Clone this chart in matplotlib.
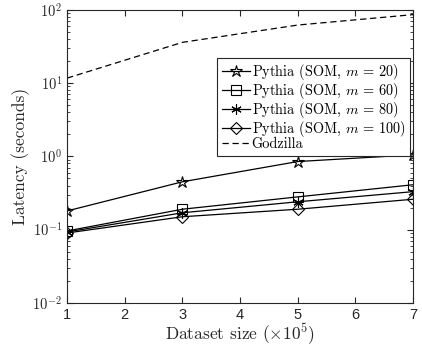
import numpy as np
import matplotlib
matplotlib.use('Agg')
import matplotlib.pyplot as plt

plt.rcParams['mathtext.fontset'] = 'cm'
plt.rcParams['font.family'] = ['Liberation Sans', 'DejaVu Sans']

# dataset size (x 10^5)
sizes = [1, 3, 5, 7]

# latency in seconds
som_m20 = [0.18, 0.45, 0.85, 1.05]
som_m60 = [0.096, 0.19, 0.28, 0.41]
som_m80 = [0.093, 0.17, 0.24, 0.33]
som_m100 = [0.09, 0.15, 0.19, 0.26]
godzilla = [11.7, 36, 62, 86]

labels = ['Pythia (SOM, $m$ = 20)',
          'Pythia (SOM, $m$ = 60)',
          'Pythia (SOM, $m$ = 80)',
          'Pythia (SOM, $m$ = 100)',
          'Godzilla']

fig = plt.figure(figsize=(4.22, 3.51), dpi=100)
ax = fig.add_axes([0.159, 0.137, 0.82, 0.835])

mk = dict(color='k', linewidth=0.9, markerfacecolor='none', markeredgecolor='k', markeredgewidth=0.8)
ax.plot(sizes, som_m20, marker='*', markersize=9, label=labels[0], **mk)
ax.plot(sizes, som_m60, marker='s', markersize=6.5, label=labels[1], **mk)
ax.plot(sizes, som_m80, marker=(6, 2, 0), markersize=7.5, label=labels[2], **mk)
ax.plot(sizes, som_m100, marker='D', markersize=6.5, label=labels[3], **mk)
ax.plot(sizes, godzilla, color='k', linewidth=0.9, linestyle=(0, (5, 3)), label=labels[4])

ax.set_yscale('log')
ax.set_xlim(1, 7)
ax.set_ylim(1e-2, 1e2)
ax.set_xticks(range(1, 8))
ax.set_yticks([1e-2, 1e-1, 1e0, 1e1, 1e2])
ax.set_yticklabels([r'$\mathsf{10^{%d}}$' % e for e in range(-2, 3)])
ax.tick_params(which='both', direction='in', top=True, right=True, labelsize=10.5, colors='#262626')
ax.tick_params(which='major', length=4)
ax.tick_params(which='minor', length=2)
ax.xaxis.set_minor_locator(matplotlib.ticker.NullLocator())
for sp in ax.spines.values():
    sp.set_color('#262626')
    sp.set_linewidth(0.8)

ax.set_xlabel(r'Dataset size ($\times 10^5$)', family='cmr10', fontsize=12.5, color='#262626', labelpad=0)
ax.set_ylabel('Latency (seconds)', family='cmr10', fontsize=12.5, color='#262626', labelpad=2)

leg = ax.legend(loc='upper right', bbox_to_anchor=(0.99, 0.836), prop={'family': 'cmr10', 'size': 10.3},
                frameon=True, fancybox=False, handlelength=2.0, handletextpad=0.1, borderpad=0.3,
                labelspacing=-0.08, borderaxespad=0, framealpha=1)
leg.get_frame().set_edgecolor('#262626')
leg.get_frame().set_linewidth(0.8)

fig.savefig('out.png', dpi=100)
